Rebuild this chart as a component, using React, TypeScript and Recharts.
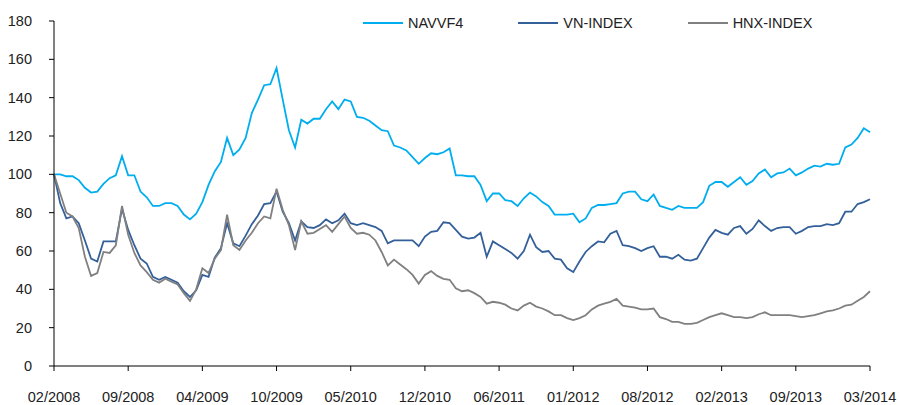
import React from 'react';
import { LineChart, Line, XAxis, YAxis } from 'recharts';

const tickLabels = ['02/2008', '09/2008', '04/2009', '10/2009', '05/2010', '12/2010', '06/2011', '01/2012', '08/2012', '02/2013', '09/2013', '03/2014'];
const yTicks = [0, 20, 40, 60, 80, 100, 120, 140, 160, 180];
const seriesNames = ['NAVVF4', 'VN-INDEX', 'HNX-INDEX'];
const seriesColors = ['#00AEEF', '#34609A', '#808080'];

const navvf4 = [
  100, 100, 99, 99, 97, 93, 90.5, 91, 95, 98, 99.5, 109.5, 99.5, 99.5, 91, 88, 83.5, 83.5, 85, 85,
  83.5, 79, 76.5, 79.5, 85.5, 94.5, 101.5, 106.5, 119, 110, 113, 119, 132, 139, 146.5, 147, 155.5, 139, 123, 114,
  128.5, 126.5, 129, 129, 134, 138, 134, 139, 138, 130, 129.5, 128, 125.5, 123, 122.5, 115, 114, 112.5, 109, 105.5,
  108.5, 111, 110.5, 111.5, 113.5, 99.5, 99.5, 99, 99, 94.5, 86, 90, 90, 86.5, 86, 83.5, 87.5, 90.5, 88.5, 85.5,
  83.5, 79, 79, 79, 79.5, 75, 77, 82.5, 84, 84, 84.5, 85, 90, 91, 91, 87, 86, 89.5, 83.5, 82.5,
  81.5, 83.5, 82.5, 82.5, 82.5, 85.5, 94, 96, 96, 93.5, 96, 98.5, 94.5, 96.5, 100.5, 102.5, 98.5, 100.5, 101, 103,
  99.5, 101, 103, 104.5, 104, 105.5, 105, 105.5, 114, 115.5, 119, 124, 122,
];

const vnIndex = [
  100, 85, 77, 78, 74.5, 65.5, 56, 54.5, 65, 65, 65, 82, 71, 63, 56, 53.5, 46.5, 45, 46.5, 45,
  43.5, 39, 36, 39.5, 47.5, 46.5, 56.5, 61.5, 74.5, 64, 62.5, 68, 74, 78.5, 84.5, 85, 91, 80.5, 74.5, 65.5,
  75.5, 72.5, 72, 73.5, 76.5, 74.5, 76, 79.5, 74.5, 73.5, 74.5, 73.5, 72.5, 70.5, 64, 65.5, 65.5, 65.5, 65.5, 62.5,
  67.5, 70, 70.5, 75, 74.5, 71, 67.5, 66.5, 67, 69.5, 57, 65, 63, 61, 59, 56, 60, 68.5, 62, 59.5,
  60, 56, 55.5, 51, 49, 54.5, 59.5, 62.5, 65, 64.5, 69, 70.5, 63, 62.5, 61.5, 60, 61.5, 62.5, 57, 57,
  56, 58, 55.5, 55, 56, 61.5, 67, 71, 69.5, 68.5, 72, 73, 69, 71.5, 76, 73, 70.5, 72, 72.5, 72.5,
  69, 70.5, 72.5, 73, 73, 74, 73.5, 74.5, 80.5, 80.5, 84.5, 85.5, 87,
];

const hnxIndex = [
  100, 90, 80, 78, 72, 57, 47, 48.5, 59.5, 59, 63, 83.5, 68.5, 59, 52.5, 49, 45, 43.5, 45.5, 44,
  42.5, 38, 34, 40, 51, 48.5, 56, 60.5, 79, 63, 60.5, 65.5, 69.5, 74.5, 78, 77, 92.5, 81.5, 73.5, 60.5,
  75.5, 69, 69.5, 71.5, 73.5, 70, 74, 78, 72, 69, 69.5, 68.5, 65.5, 59.5, 52.5, 55.5, 53, 50.5, 47.5, 43,
  47.5, 49.5, 47, 45.5, 45, 40.5, 39, 39.5, 38, 36, 32.5, 33.5, 33, 32, 30, 29, 31.5, 33, 31, 30,
  28.5, 26.5, 26.5, 25, 24, 25, 26.5, 29.5, 31.5, 32.5, 33.5, 35, 31.5, 31, 30.5, 29.5, 29.5, 30, 25.5, 24.5,
  23, 23, 22, 22, 22.5, 24, 25.5, 26.5, 27.5, 26.5, 25.5, 25.5, 25, 25.5, 27, 28, 26.5, 26.5, 26.5, 26.5,
  26, 25.5, 26, 26.5, 27.5, 28.5, 29, 30, 31.5, 32, 34, 36, 39,
];

const pointsPerTick = 12;
const data = navvf4.map((v, i) => ({ i, navvf4: v, vn: vnIndex[i], hnx: hnxIndex[i] }));
const xTicks = tickLabels.map((_, k) => k * pointsPerTick);
const lastIndex = navvf4.length - 1;

const font = '"Liberation Sans", Arial, sans-serif';

function LegendBox() {
  return (
    <div
      style={{
        position: 'absolute',
        left: 363,
        top: 15,
        display: 'flex',
        alignItems: 'center',
        fontFamily: font,
        fontSize: 14.5,
        color: '#222',
      }}
    >
      {seriesNames.map((name, k) => (
        <div key={name} style={{ display: 'flex', alignItems: 'center', marginRight: 55 }}>
          <div style={{ width: 40, height: 2, background: seriesColors[k], marginRight: 5 }} />
          <span>{name}</span>
        </div>
      ))}
    </div>
  );
}

export default function App() {
  return (
    <div style={{ position: 'absolute', left: 0, top: 0, width: 900, height: 405, background: '#fff', fontFamily: font }}>
      <LineChart width={900} height={405} data={data} margin={{ top: 21, right: 30, left: 10, bottom: 9 }}>
        <XAxis
          dataKey="i"
          type="number"
          domain={[0, lastIndex]}
          ticks={xTicks}
          interval={0}
          tickFormatter={(v: number) => tickLabels[Math.round(v / pointsPerTick)]}
          height={30}
          tickSize={5}
          tickMargin={21}
          stroke="#000"
          tick={{ fill: '#222', fontSize: 14.5, fontFamily: font }}
        />
        <YAxis
          domain={[0, 180]}
          ticks={yTicks}
          interval={0}
          width={44}
          tickSize={5}
          tickMargin={17}
          stroke="#000"
          tick={{ fill: '#222', fontSize: 14.5, fontFamily: font }}
        />
        <Line type="linear" dataKey="navvf4" name={seriesNames[0]} stroke={seriesColors[0]} strokeWidth={1.8} dot={false} isAnimationActive={false} />
        <Line type="linear" dataKey="vn" name={seriesNames[1]} stroke={seriesColors[1]} strokeWidth={1.8} dot={false} isAnimationActive={false} />
        <Line type="linear" dataKey="hnx" name={seriesNames[2]} stroke={seriesColors[2]} strokeWidth={1.8} dot={false} isAnimationActive={false} />
      </LineChart>
      <LegendBox />
    </div>
  );
}
